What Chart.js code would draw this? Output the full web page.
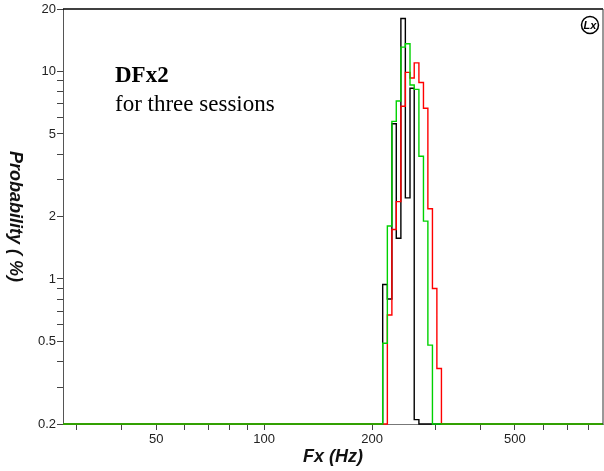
<!DOCTYPE html>
<html>
<head>
<meta charset="utf-8">
<script src="https://cdn.jsdelivr.net/npm/chart.js@4.4.1/dist/chart.umd.min.js"></script>
<style>
  html, body { margin: 0; padding: 0; background: #fff; }
  #wrap { width: 604px; height: 471px; }
</style>
</head>
<body>
<div id="wrap"><canvas id="chart" width="604" height="471"></canvas></div>
<script>
// histogram bin edges (Hz), quarter-tone wide bins
const binEdges = [214, 220.5, 227, 233.5, 240.5, 247.5, 255, 262, 270, 278, 286, 294.5, 303, 312];

// probability (%) per bin, one list per session
const blackSession = [0.94, 0.8, 5.6, 1.57, 18, 2.46, 8.3, 0.21, 0, 0, 0, 0, 0];
const greenSession = [0.49, 1.8, 5.75, 7.2, 13.1, 13.6, 8.6, 8.2, 3.9, 1.9, 0.48, 0, 0];
const redSession = [0, 0.67, 1.73, 2.36, 6.8, 9.9, 9.3, 11.0, 8.85, 6.65, 2.18, 0.9, 0.37];

const xTicks = [30, 40, 50, 60, 70, 80, 90, 100, 200, 300, 400, 500, 600, 700, 800];
const xLabels = [50, 100, 200, 500];
const yTicks = [0.2, 0.3, 0.4, 0.5, 0.6, 0.7, 0.8, 0.9, 1, 2, 3, 4, 5, 6, 7, 8, 9, 10, 20];
const yLabels = [0.2, 0.5, 1, 2, 5, 10, 20];

const xMin = 27.5, xMax = 880;
const yMin = 0.2, yMax = 20;

const sansFont = "'Liberation Sans', Arial, sans-serif";
const serifFont = "'Liberation Serif', 'Times New Roman', serif";

// turn per-bin values into step points (empty bins sit on the axis floor)
function stepPoints(values) {
  const pts = [{ x: xMin, y: yMin }];
  values.forEach((v, i) => {
    pts.push({ x: binEdges[i], y: Math.max(v, yMin) });
  });
  pts.push({ x: binEdges[values.length], y: yMin });
  pts.push({ x: xMax, y: yMin });
  return pts;
}

function histDataset(label, values, color) {
  return {
    label: label,
    data: stepPoints(values),
    borderColor: color,
    borderWidth: 1.4,
    pointRadius: 0,
    fill: false,
    stepped: true,
    clip: 3,
  };
}

// frame, rotated y title, annotation text and corner badge
const decorations = {
  id: "decorations",
  afterDraw(chart) {
    const ctx = chart.ctx;
    const area = chart.chartArea;
    ctx.save();

    ctx.strokeStyle = "#000";
    ctx.lineWidth = 1.5;
    ctx.beginPath();
    ctx.moveTo(area.left, area.top);
    ctx.lineTo(area.right, area.top);
    ctx.stroke();
    ctx.strokeStyle = "#333";
    ctx.lineWidth = 1;
    ctx.beginPath();
    ctx.moveTo(area.right, area.top);
    ctx.lineTo(area.right, area.bottom);
    ctx.stroke();

    ctx.fillStyle = "#111";
    ctx.font = "bold italic 18px " + sansFont;
    ctx.textAlign = "center";
    ctx.textBaseline = "alphabetic";
    ctx.fillText("Fx (Hz)", (area.left + area.right) / 2, 462);

    ctx.save();
    ctx.translate(15, (area.top + area.bottom) / 2);
    ctx.rotate(Math.PI / 2);
    ctx.textBaseline = "middle";
    ctx.fillText("Probability ( %)", 0, 0);
    ctx.restore();

    ctx.textAlign = "left";
    ctx.textBaseline = "alphabetic";
    ctx.fillStyle = "#000";
    ctx.font = "bold 23px " + serifFont;
    ctx.fillText("DFx2", 115, 82);
    ctx.font = "23px " + serifFont;
    ctx.fillText("for three sessions", 115, 111);

    ctx.lineWidth = 1.5;
    ctx.strokeStyle = "#000";
    ctx.beginPath();
    ctx.arc(590, 25, 8.5, 0, Math.PI * 2);
    ctx.stroke();
    ctx.font = "bold italic 11px " + sansFont;
    ctx.textAlign = "center";
    ctx.textBaseline = "middle";
    ctx.fillText("Lx", 590, 25.5);

    ctx.restore();
  },
};

const tickFont = { family: sansFont, size: 13 };

new Chart(document.getElementById("chart"), {
  type: "line",
  data: {
    datasets: [
      histDataset("Session 3", greenSession, "#00d200"),
      histDataset("Session 2", redSession, "#ff0000"),
      histDataset("Session 1", blackSession, "#000000"),
    ],
  },
  options: {
    responsive: false,
    animation: false,
    layout: { padding: { top: 9, right: 1, left: 0, bottom: 0 } },
    plugins: {
      legend: { display: false },
      tooltip: { enabled: false },
    },
    scales: {
      x: {
        type: "logarithmic",
        min: xMin,
        max: xMax,
        afterBuildTicks: (scale) => {
          scale.ticks = xTicks.map((v) => ({ value: v }));
        },
        afterFit: (scale) => {
          scale.height = 47;
        },
        ticks: {
          autoSkip: false,
          maxRotation: 0,
          padding: 2,
          color: "#222",
          font: tickFont,
          callback: (v) => (xLabels.includes(v) ? String(v) : ""),
        },
        grid: { drawOnChartArea: false, drawTicks: true, tickLength: 6, color: "#444" },
        border: { display: true, color: "#777" },
      },
      y: {
        type: "logarithmic",
        min: yMin,
        max: yMax,
        afterBuildTicks: (scale) => {
          scale.ticks = yTicks.map((v) => ({ value: v }));
        },
        afterFit: (scale) => {
          scale.width = 63;
        },
        ticks: {
          autoSkip: false,
          padding: 1,
          color: "#222",
          font: tickFont,
          callback: (v) => (yLabels.includes(v) ? String(v) : ""),
        },
        grid: { drawOnChartArea: false, drawTicks: true, tickLength: 6, color: "#444" },
        border: { display: true, color: "#555" },
      },
    },
  },
  plugins: [decorations],
});
</script>
</body>
</html>
